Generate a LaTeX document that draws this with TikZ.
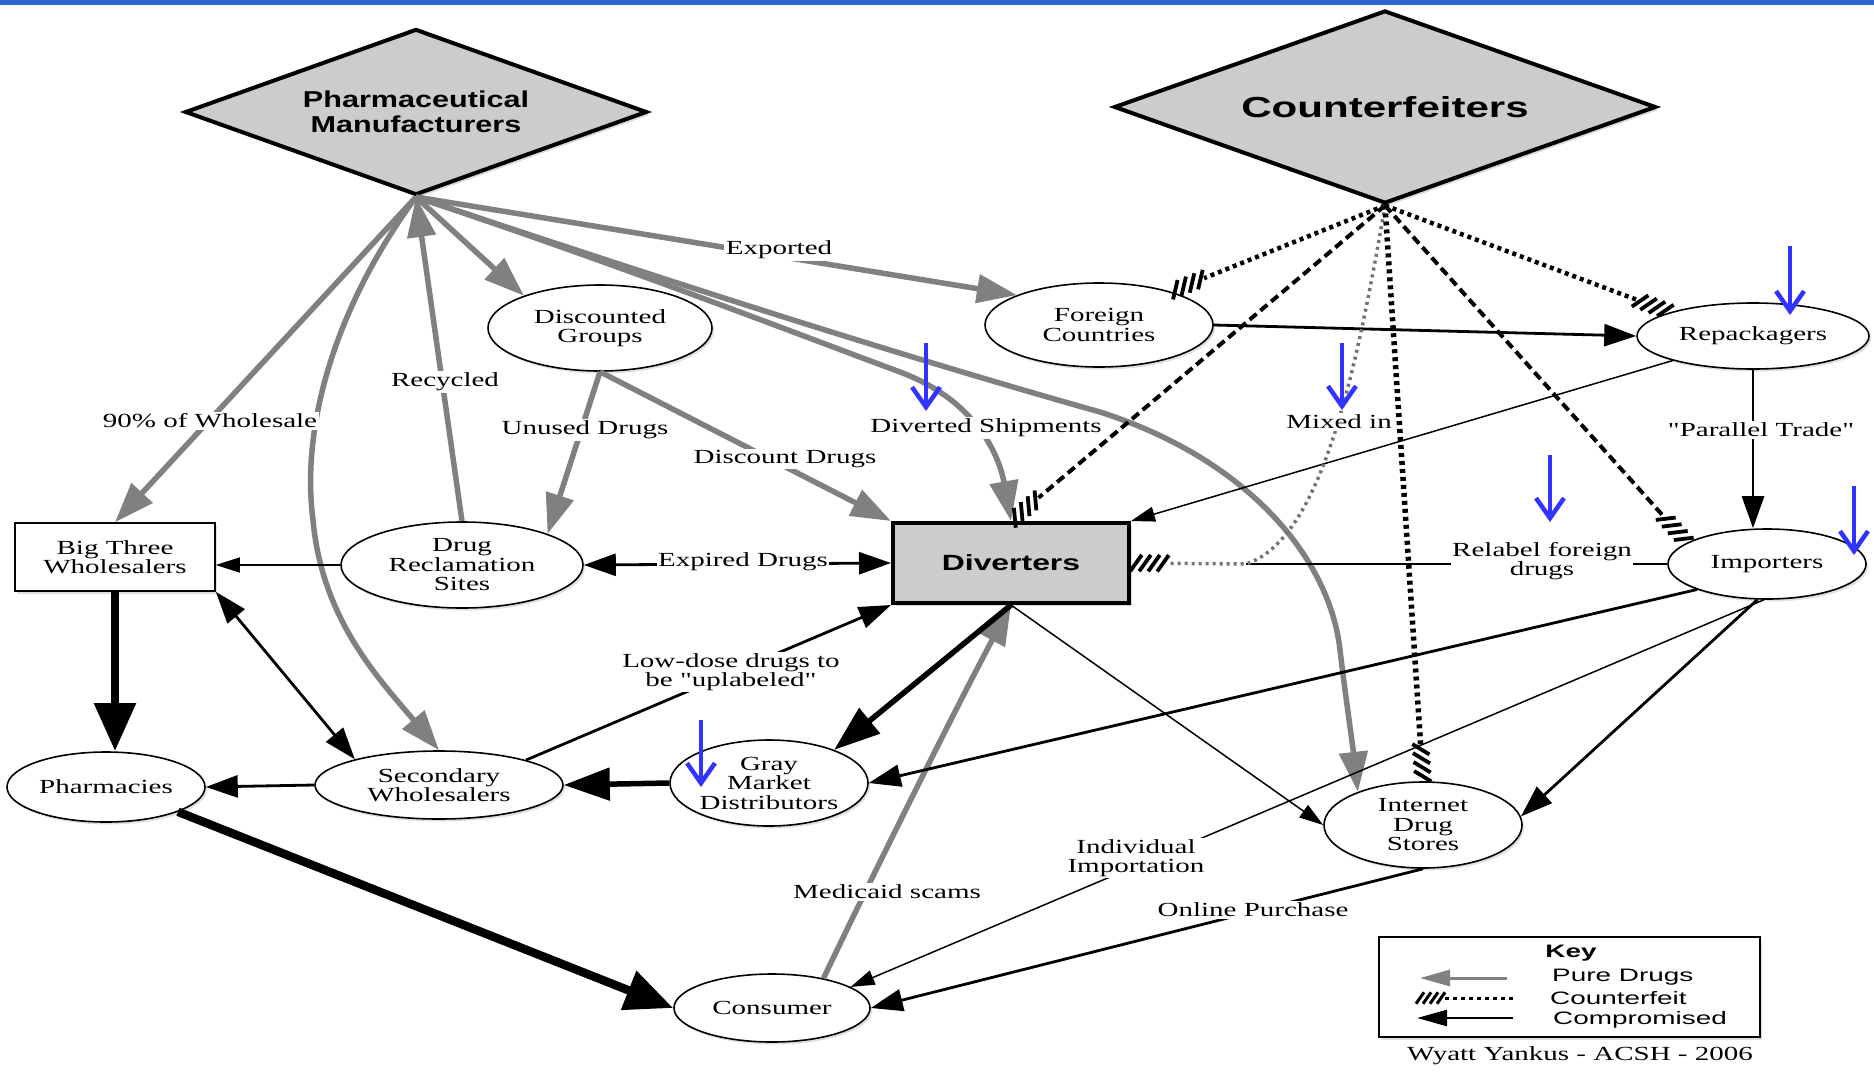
\documentclass[tikz,border=0pt]{standalone}
\usepackage{fontspec}
\usetikzlibrary{arrows.meta,shapes.geometric,calc,shadows}
\newfontfamily\serifS[FakeStretch=1.45]{Liberation Serif}
\newfontfamily\sansA[FakeStretch=1.33]{Liberation Sans}
\newfontfamily\sansB[FakeStretch=1.45]{Liberation Sans}
\newfontfamily\sansK[FakeStretch=1.55]{Liberation Sans}
\definecolor{puregray}{gray}{0.5}
\definecolor{nodegray}{gray}{0.8}
\definecolor{barblue}{RGB}{50,102,204}
\definecolor{markblue}{RGB}{51,51,255}
\definecolor{mixgray}{gray}{0.45}
\newcommand\lblfont{\serifS\fontsize{20}{19.5}\selectfont}
\newcommand\hatchmark[2]{%
  \foreach \hd in {5,14,23,32}{%
    \coordinate (hp) at ($(#2)!\hd pt!(#1)$);
    \draw[line width=3.8pt,black] ($(hp)!10pt!55:(#2)$) -- ($(hp)!10pt!-125:(#2)$);
  }}
\newcommand\hatchkey[2]{%
  \foreach \hd in {3,10,17,24}{%
    \coordinate (hp) at ($(#2)!\hd pt!(#1)$);
    \draw[line width=3pt,black] ($(hp)!7pt!55:(#2)$) -- ($(hp)!7pt!-125:(#2)$);
  }}
\begin{document}
\begin{tikzpicture}[x=1pt,y=-1pt,
  ell/.style={ellipse,draw,line width=1.6pt,fill=white,inner sep=0pt,align=center,font=\lblfont,
     drop shadow={shadow xshift=2pt,shadow yshift=-2.5pt,opacity=0.25}},
  diam/.style={diamond,draw,line width=4pt,fill=nodegray,aspect=2.8,inner sep=0pt,align=center,
     drop shadow={shadow xshift=3pt,shadow yshift=-3pt,opacity=0.3}},
  pureline/.style={draw=puregray,line width=5.5pt,-{Triangle[length=40pt,width=28pt]}},
  compthin/.style={line width=1.5pt,-{Triangle[length=24pt,width=15pt]}},
  compmed/.style={line width=2.8pt,-{Triangle[length=32pt,width=22pt]}},
  compline/.style={line width=2.8pt},
  compboth/.style={line width=2.8pt,{Triangle[length=32pt,width=22pt]}-{Triangle[length=32pt,width=22pt]}},
  compthick/.style={line width=5.5pt,-{Triangle[length=46pt,width=32pt]}},
  compheavy/.style={line width=8.5pt,-{Triangle[length=48pt,width=40pt]}},
  cfdash/.style={line width=4pt,dash pattern=on 9pt off 5pt,shorten >=36pt},
  cfdot/.style={line width=4.5pt,dash pattern=on 4pt off 4pt,shorten >=36pt},
  cfmix/.style={draw=mixgray,line width=3.5pt,dash pattern=on 3pt off 4pt,shorten >=36pt},
  lbl/.style={font=\lblfont,fill=white,inner sep=1.5pt,align=center},
  bluemark/.style={draw=markblue,line width=4.5pt,-{Straight Barb[length=20pt,width=28pt]}},
  keytext/.style={font=\sansK\fontsize{18}{20}\selectfont,inner sep=0pt,anchor=west}
]
\useasboundingbox (0,0) rectangle (1874,1074);
\fill[white] (0,0) rectangle (1874,1074);
\fill[barblue] (0,0) rectangle (1874,5);

% ---------- nodes ----------
\node[diam,minimum width=462pt,minimum height=166pt,font=\sansA\bfseries\fontsize{23}{25}\selectfont] (pm) at (416,112) {Pharmaceutical\\Manufacturers};
\node[diam,minimum width=542pt,minimum height=193pt,font=\sansB\bfseries\fontsize{29}{32}\selectfont] (cf) at (1385,107) {Counterfeiters};
\node[ell,minimum width=224pt,minimum height=86pt] (dg) at (600,328) {Discounted\\Groups};
\node[ell,minimum width=228pt,minimum height=84pt] (fc) at (1099,325) {Foreign\\Countries};
\node[ell,minimum width=232pt,minimum height=66pt] (rp) at (1753,336) {Repackagers};
\node[draw,line width=1.5pt,fill=white,minimum width=200pt,minimum height=68pt,inner sep=0pt,align=center,font=\lblfont,
  drop shadow={shadow xshift=2pt,shadow yshift=-2.5pt,opacity=0.25}] (bt) at (115,557) {Big Three\\Wholesalers};
\node[ell,minimum width=242pt,minimum height=86pt] (dr) at (462,565) {Drug\\Reclamation\\Sites};
\node[draw,line width=4pt,fill=nodegray,minimum width=236pt,minimum height=80pt,inner sep=0pt,font=\sansB\bfseries\fontsize{22}{24}\selectfont,
  drop shadow={shadow xshift=3pt,shadow yshift=-3pt,opacity=0.3}] (dv) at (1011,563) {Diverters};
\node[ell,minimum width=198pt,minimum height=70pt] (im) at (1767,564) {Importers};
\node[ell,minimum width=198pt,minimum height=70pt] (ph) at (106,787) {Pharmacies};
\node[ell,minimum width=248pt,minimum height=68pt] (sw) at (439,785) {Secondary\\Wholesalers};
\node[ell,minimum width=198pt,minimum height=86pt] (gm) at (769,783) {Gray\\Market\\Distributors};
\node[ell,minimum width=198pt,minimum height=86pt] (ids) at (1423,825) {Internet\\Drug\\Stores};
\node[ell,minimum width=196pt,minimum height=68pt] (cs) at (772,1008) {Consumer};

% ---------- pure drugs ----------
\draw[pureline] (pm.south) -- (bt.north);
\draw[pureline] (pm.south) .. controls (340,300) and (300,420) .. (313,520) .. controls (322,620) and (380,680) .. (sw.north);
\draw[pureline] (dr.north) -- (pm.south);
\draw[pureline] (pm.south) -- (dg.157);
\draw[pureline] (pm.south) -- (fc.160);
\draw[pureline] (pm.south) .. controls (620,265) and (800,335) .. (900,372) .. controls (980,402) and (1000,460) .. (dv.north);
\draw[pureline] (pm.south) .. controls (650,275) and (880,350) .. (1100,412) .. controls (1250,460) and (1330,560) .. (1340,650) .. controls (1346,700) and (1352,740) .. (ids.153);
\draw[pureline] (dg.south) -- (dr.20);
\draw[pureline] (dg.south) -- (dv.north west);
\draw[pureline] (cs.30) .. controls (880,860) and (960,700) .. (dv.south);

% ---------- compromised ----------
\draw[compthin] (dr.west) -- (bt.east |- dr.west);
\draw[compboth] (dr.east) -- (dv.west);
\draw[compheavy] (bt.south) -- (bt.south |- ph.north);
\draw[compboth] (bt.south east) -- (sw.163);
\draw[compmed] (sw.west) -- (ph.east);
\draw[compthick] (gm.west) -- (sw.east);
\draw[compthick] (dv.south) -- (gm.27);
\draw[compmed] (sw.16) -- (dv.south west);
\draw[compheavy] (ph.-19) -- (cs.west);
\draw[compmed] (fc.east) -- (rp.west);
\draw[compthin] (rp.197) -- (dv.north east);
\draw[compmed] (rp.south) -- (rp.south |- im.north);
\coordinate (jn) at (1246,564);
\draw[compline] (im.west) -- (jn);
\draw[compmed] (im.200) -- (gm.east);
\draw[compthin] (im.265) -- (cs.15);
\draw[compmed] (im.255) -- (ids.5);
\draw[compthin] (dv.south) -- (ids.west);
\draw[compmed] (ids.south) -- (cs.east);

% ---------- counterfeit ----------
\draw[cfdot] (cf.south) -- (fc.25); \hatchmark{cf.south}{fc.25}
\draw[cfdash] (cf.south) -- (dv.north); \hatchmark{cf.south}{dv.north}
\draw[cfmix] (cf.south) .. controls (1355,380) and (1320,540) .. (jn) -- (dv.east); \hatchmark{jn}{dv.east}
\draw[cfdot,line width=5.5pt] (cf.south) -- (ids.north); \hatchmark{cf.south}{ids.north}
\draw[cfdash] (cf.south) -- (im.165); \hatchmark{cf.south}{im.165}
\draw[cfdot] (cf.south) -- (rp.164); \hatchmark{cf.south}{rp.164}

% ---------- labels ----------
\node[lbl] (l1) at (779,250) {Exported};
\node[lbl] (l2) at (445,382) {Recycled};
\node[lbl] (l3) at (210,421) {90\% of Wholesale};
\node[lbl] (l4) at (585,430) {Unused Drugs};
\node[lbl] (l5) at (785,459) {Discount Drugs};
\node[lbl] (l6) at (986,428) {Diverted Shipments};
\node[lbl] (l7) at (1339,422) {Mixed in};
\node[lbl] (l8) at (1761,430) {"Parallel Trade"};
\node[lbl] (l9) at (1542,561) {Relabel foreign\\drugs};
\node[lbl] (l10) at (743,562) {Expired Drugs};
\node[lbl] (l11) at (731,672) {Low-dose drugs to\\be "uplabeled"};
\node[lbl] (l12) at (887,892) {Medicaid scams};
\node[lbl] (l13) at (1136,858) {Individual\\Importation};
\node[lbl] (l14) at (1253,910) {Online Purchase};

% ---------- blue markers ----------
\coordinate (b1s) at (926,343); \coordinate (b1e) at (926,411);
\coordinate (b2s) at (1342,343); \coordinate (b2e) at (1342,410);
\coordinate (b3s) at (1790,246); \coordinate (b3e) at (1790,315);
\coordinate (b4s) at (1550,455); \coordinate (b4e) at (1550,522);
\coordinate (b5s) at (1854,486); \coordinate (b5e) at (1854,555);
\coordinate (b6s) at (701,720); \coordinate (b6e) at (701,787);
\foreach \bm in {1,...,6}{\draw[bluemark] (b\bm s) -- (b\bm e);}

% ---------- key ----------
\node[draw,line width=2pt,fill=white,minimum width=381pt,minimum height=100pt,inner sep=0pt,
  drop shadow={shadow xshift=2pt,shadow yshift=-2.5pt,opacity=0.25}] (key) at (1569.5,987) {};
\node[font=\sansK\bfseries\fontsize{18}{20}\selectfont,inner sep=0pt] (keyt) at (1571,953) {Key};
\node[keytext] (k1) at (1552,977) {Pure Drugs};
\node[keytext] (k2) at (1550,998) {Counterfeit};
\node[keytext] (k3) at (1553,1020) {Compromised};
\coordinate (k1a) at (1507,978); \coordinate (k1b) at (1420,978);
\draw[draw=puregray,line width=3pt,-{Triangle[length=30pt,width=16pt]}] (k1a) -- (k1b);
\coordinate (k2a) at (1513,998); \coordinate (k2b) at (1417,998);
\draw[line width=3pt,dash pattern=on 4pt off 4pt,shorten >=28pt] (k2a) -- (k2b);
\hatchkey{k2a}{k2b}
\coordinate (k3a) at (1513,1018); \coordinate (k3b) at (1417,1018);
\draw[line width=2.5pt,-{Triangle[length=30pt,width=16pt]}] (k3a) -- (k3b);
\node[font=\lblfont,inner sep=0pt] (credit) at (1580,1056) {Wyatt Yankus - ACSH - 2006};
\end{tikzpicture}
\end{document}
